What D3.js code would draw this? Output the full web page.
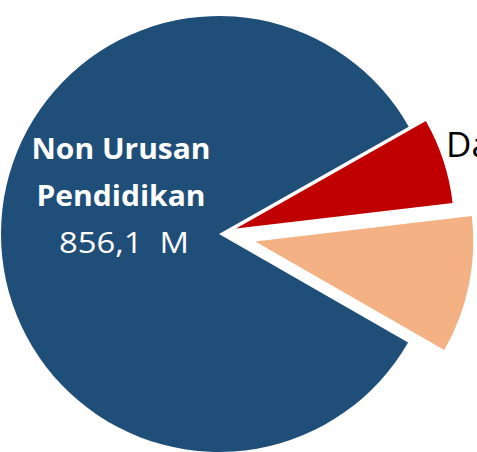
<!DOCTYPE html>
<html>
<head>
<meta charset="utf-8">
<script src="https://cdn.jsdelivr.net/npm/d3@7"></script>
<style>
  html, body { margin: 0; padding: 0; background: #fff; overflow: hidden; }
  svg { display: block; }
</style>
</head>
<body>
<div id="chart"></div>
<script>
// ---- data ----
const categories = ["Dana", "Urusan Pendidikan", "Non Urusan Pendidikan"];
const values = [65, 104, 856.1];
const valueLabels = ["", "", "856,1  M"];

// ---- style ----
const colors = ["#C00000", "#F4B183", "#1F4E79"];
const explode = [18, 37, 0];

const W = 477, H = 452;
const cx = 219, cy = 234, r = 218;
const startDeg = 60.5;
const font = "'Open Sans', Lato, sans-serif";

const svg = d3.select("#chart").append("svg")
  .attr("width", W).attr("height", H);

const pie = d3.pie().sort(null).value(d => d)
  .startAngle(startDeg * Math.PI / 180)
  .endAngle((startDeg + 360) * Math.PI / 180);
const arcs = pie(values);
const arc = d3.arc().innerRadius(0).outerRadius(r);

const g = svg.append("g").attr("transform", `translate(${cx},${cy})`);

g.selectAll("path.slice").data(arcs).enter()
  .append("path")
  .attr("class", "slice")
  .attr("d", arc)
  .attr("fill", (d, i) => colors[i])
  .attr("transform", (d, i) => {
    const a = (d.startAngle + d.endAngle) / 2;
    return `translate(${Math.sin(a) * explode[i]},${-Math.cos(a) * explode[i]})`;
  });

// Label for the big slice (name split on two lines + value)
const lines = [
  { text: "Non Urusan", y: 159, w: 179, bold: true, x: 121 },
  { text: "Pendidikan", y: 206, w: 169, bold: true, x: 121 },
  { text: valueLabels[2], y: 253, w: 130, bold: false, x: 124 }
];
svg.selectAll("text.inner").data(lines).enter()
  .append("text")
  .attr("class", "inner")
  .attr("x", d => d.x)
  .attr("y", d => d.y)
  .attr("text-anchor", "middle")
  .attr("fill", "#fff")
  .attr("font-family", font)
  .attr("font-weight", d => d.bold ? "bold" : "normal")
  .attr("font-size", d => d.bold ? 28 : 29)
  .attr("textLength", d => d.w)
  .attr("lengthAdjust", "spacingAndGlyphs")
  .style("white-space", "pre")
  .text(d => d.text);

// Outside label (cut off by the frame, as in the original)
svg.append("text")
  .attr("x", 446).attr("y", 157)
  .attr("fill", "#000")
  .attr("font-family", font)
  .attr("font-size", 35)
  .text(categories[0]);
</script>
</body>
</html>
